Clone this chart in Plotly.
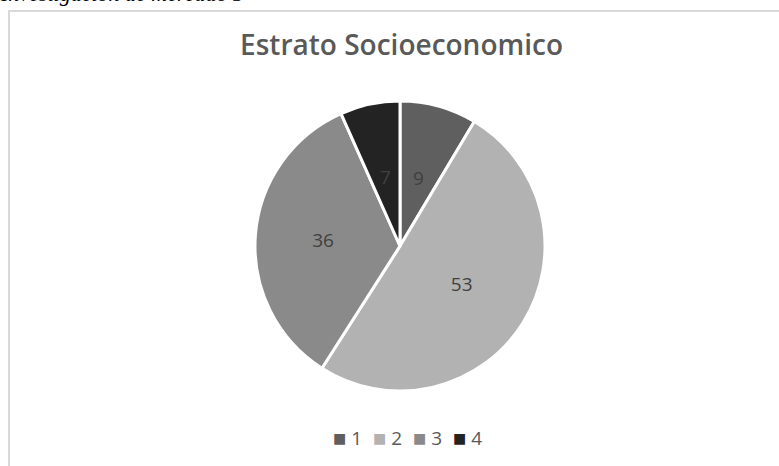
import math
import plotly.graph_objects as go

# Estratos socioeconómicos y su conteo
estratos = ["1", "2", "3", "4"]
conteos = [9, 53, 36, 7]
colores = ["#5f5f5f", "#b2b2b2", "#8a8a8a", "#232323"]
# Las porciones angostas llevan su etiqueta como anotación a media distancia del centro
etiqueta_anotada = [True, False, False, True]

W, H = 779, 466
dom_x = [255 / W, 545 / W]
dom_y = [1 - 391 / H, 1 - 101 / H]

fig = go.Figure(
    go.Pie(
        labels=estratos,
        values=conteos,
        sort=False,
        direction="clockwise",
        rotation=0,
        marker=dict(colors=colores, line=dict(color="white", width=3)),
        textinfo="value",
        textposition=["none" if a else "inside" for a in etiqueta_anotada],
        insidetextorientation="horizontal",
        textfont=dict(family="Open Sans", size=19, color="#404040"),
        hoverinfo="label+value",
        domain=dict(x=dom_x, y=dom_y),
        showlegend=False,
    )
)

# Etiquetas de las porciones angostas sobre el ángulo medio de cada una
total = sum(conteos)
cx = (dom_x[0] + dom_x[1]) / 2 * W
cy = (1 - (dom_y[0] + dom_y[1]) / 2) * H
radio = (dom_x[1] - dom_x[0]) * W / 2
acum = 0
anotaciones = []
for valor, anotar in zip(conteos, etiqueta_anotada):
    ang = 2 * math.pi * (acum + valor / 2) / total
    acum += valor
    if not anotar:
        continue
    px = cx + 0.49 * radio * math.sin(ang)
    py = cy - 0.49 * radio * math.cos(ang)
    anotaciones.append(
        dict(
            text=str(valor),
            xref="paper",
            yref="paper",
            x=px / W,
            y=1 - py / H,
            xanchor="center",
            yanchor="middle",
            showarrow=False,
            font=dict(family="Open Sans", size=19, color="#404040"),
        )
    )

# Leyenda compacta: cuadro de color seguido del estrato
for i, (lab, col) in enumerate(zip(estratos, colores)):
    anotaciones.append(
        dict(
            text=(
                f'<span style="color:{col};font-size:14px;baseline-shift:2px">■</span>'
                f'&nbsp;{lab}'
            ),
            xref="paper",
            yref="paper",
            x=(331 + 40 * i) / W,
            xanchor="left",
            y=1 - 438 / H,
            yanchor="middle",
            showarrow=False,
            font=dict(family="Open Sans, DejaVu Sans", size=19, color="#595959"),
        )
    )

anotaciones.append(
    dict(
        text="Investigación de mercado 3",
        xref="paper",
        yref="paper",
        x=-2 / W,
        xanchor="left",
        y=1 - 8 / H,
        yanchor="bottom",
        showarrow=False,
        font=dict(family="Liberation Serif", size=22, color="#000000", style="italic"),
    )
)

fig.update_layout(
    width=W,
    height=H,
    margin=dict(l=0, r=0, t=0, b=0),
    paper_bgcolor="white",
    plot_bgcolor="white",
    showlegend=False,
    title=dict(
        text="Estrato Socioeconomico",
        x=0.5155,
        xanchor="center",
        y=1 - 45 / H,
        yanchor="middle",
        font=dict(family="Open Sans", size=28, color="#595959", weight=600),
    ),
    shapes=[
        dict(
            type="rect",
            xref="paper",
            yref="paper",
            x0=9 / W,
            x1=1.02,
            y0=-0.02,
            y1=1 - 11 / H,
            line=dict(color="#d9d9d9", width=2),
            fillcolor="rgba(0,0,0,0)",
            layer="below",
        )
    ],
    annotations=anotaciones,
)

fig.write_html("out.html")
